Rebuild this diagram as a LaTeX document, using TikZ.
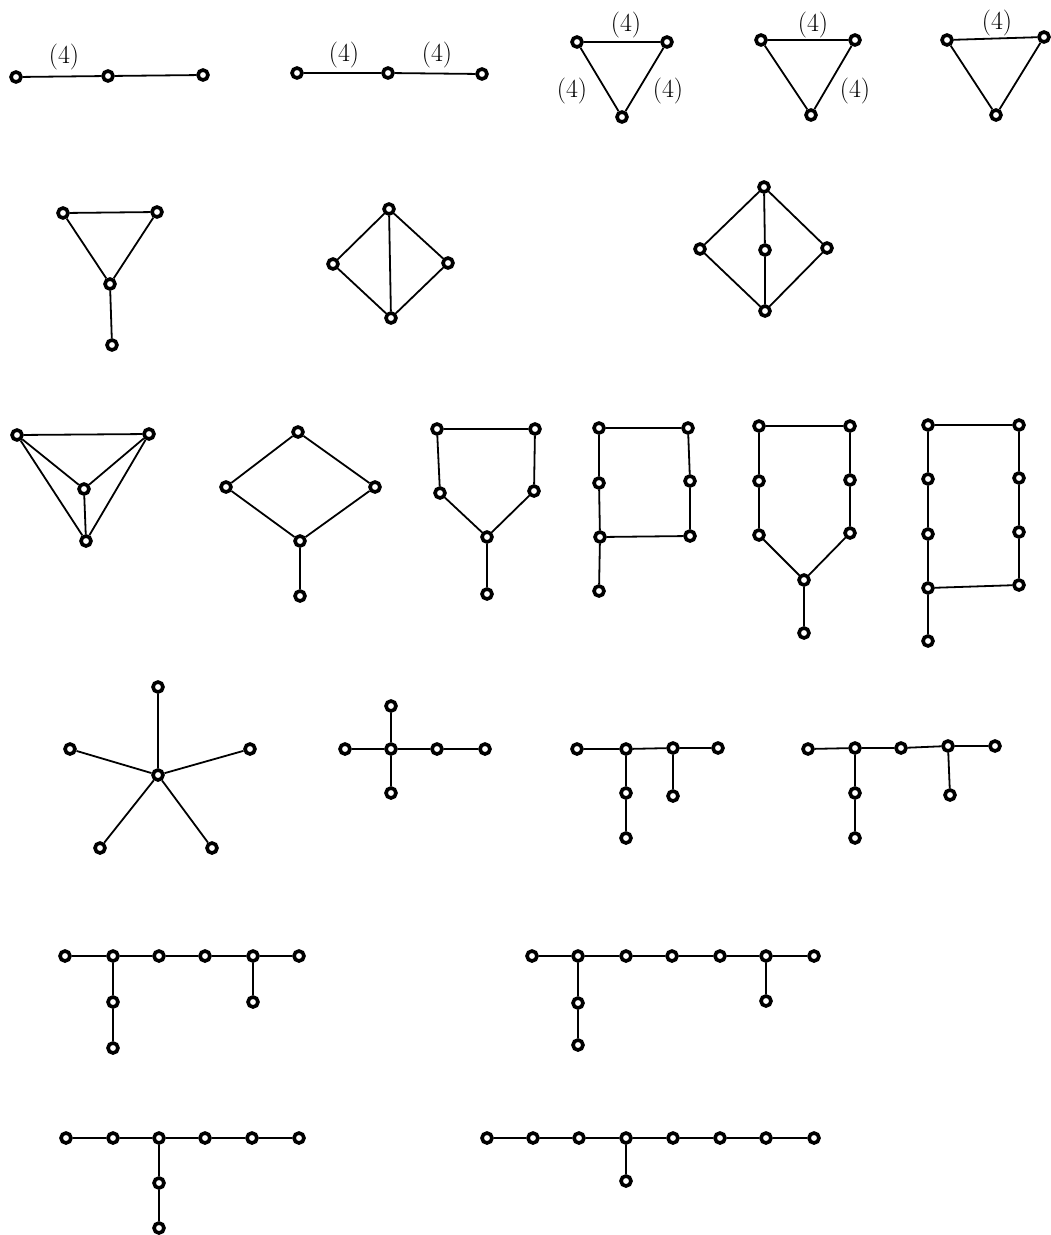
\documentclass[tikz,border=0pt]{standalone}
\usetikzlibrary{positioning}
\begin{document}
\begin{tikzpicture}[x=1pt, y=-1pt,
  vtx/.style={circle, draw, line width=3.6pt, fill=white, inner sep=0pt, minimum size=10pt},
  link/.style={line width=1.8pt},
  wlabel/.style={font=\fontsize{26}{30}\selectfont, inner sep=0pt},
]
\useasboundingbox (0,0) rectangle (1051,1235);

% Row 1: weighted paths and triangles
\node[vtx] (pa1) at (16,77) {};
\node[vtx] (pa2) at (108,76) {};
\node[vtx] (pa3) at (203,75) {};
\draw[link] (pa1) -- (pa2) -- (pa3);
\node[wlabel] (pa1l) at (64,57) {(4)};

\node[vtx] (pb1) at (297,73) {};
\node[vtx] (pb2) at (388,73) {};
\node[vtx] (pb3) at (482,74) {};
\draw[link] (pb1) -- (pb2) -- (pb3);
\node[wlabel] (pb1l) at (344,55) {(4)};
\node[wlabel] (pb2l) at (437,55) {(4)};

\node[vtx] (ta1) at (577,42) {};
\node[vtx] (ta2) at (667,42) {};
\node[vtx] (ta3) at (622,117) {};
\draw[link] (ta1) -- (ta2) -- (ta3) -- (ta1);
\node[wlabel] (ta1l) at (626,25) {(4)};
\node[wlabel] (ta2l) at (572,91) {(4)};
\node[wlabel] (ta3l) at (668,91) {(4)};

\node[vtx] (tb1) at (761,40) {};
\node[vtx] (tb2) at (855,40) {};
\node[vtx] (tb3) at (811,115) {};
\draw[link] (tb1) -- (tb2) -- (tb3) -- (tb1);
\node[wlabel] (tb1l) at (813,25) {(4)};
\node[wlabel] (tb2l) at (855,91) {(4)};

\node[vtx] (tc1) at (947,40) {};
\node[vtx] (tc2) at (1044,37) {};
\node[vtx] (tc3) at (996,115) {};
\draw[link] (tc1) -- (tc2) -- (tc3) -- (tc1);
\node[wlabel] (tc1l) at (997,23) {(4)};

% Row 2
\node[vtx] (q1) at (63,213) {};
\node[vtx] (q2) at (157,212) {};
\node[vtx] (q3) at (110,284) {};
\node[vtx] (q4) at (112,345) {};
\draw[link] (q1) -- (q2) -- (q3) -- (q1);
\draw[link] (q3) -- (q4);

\node[vtx] (d1) at (389,209) {};
\node[vtx] (d2) at (333,264) {};
\node[vtx] (d3) at (448,263) {};
\node[vtx] (d4) at (391,318) {};
\draw[link] (d1) -- (d2) -- (d4) -- (d3) -- (d1) -- (d4);

\node[vtx] (k1) at (764,187) {};
\node[vtx] (k2) at (700,249) {};
\node[vtx] (k3) at (827,248) {};
\node[vtx] (k4) at (765,250) {};
\node[vtx] (k5) at (765,311) {};
\draw[link] (k1) -- (k2) -- (k5) -- (k3) -- (k1) -- (k4) -- (k5);

% Row 3
\node[vtx] (f1) at (17,435) {};
\node[vtx] (f2) at (149,434) {};
\node[vtx] (f3) at (84,489) {};
\node[vtx] (f4) at (86,541) {};
\draw[link] (f1) -- (f2) -- (f4) -- (f1) -- (f3) -- (f2);
\draw[link] (f3) -- (f4);

\node[vtx] (r1) at (298,432) {};
\node[vtx] (r2) at (226,487) {};
\node[vtx] (r3) at (375,487) {};
\node[vtx] (r4) at (300,541) {};
\node[vtx] (r5) at (300,596) {};
\draw[link] (r1) -- (r2) -- (r4) -- (r3) -- (r1);
\draw[link] (r4) -- (r5);

\node[vtx] (h1) at (437,429) {};
\node[vtx] (h2) at (535,429) {};
\node[vtx] (h3) at (440,493) {};
\node[vtx] (h4) at (534,491) {};
\node[vtx] (h5) at (487,537) {};
\node[vtx] (h6) at (487,594) {};
\draw[link] (h1) -- (h2) -- (h4) -- (h5) -- (h3) -- (h1);
\draw[link] (h5) -- (h6);

\node[vtx] (s1) at (599,428) {};
\node[vtx] (s2) at (688,428) {};
\node[vtx] (s3) at (599,483) {};
\node[vtx] (s4) at (690,481) {};
\node[vtx] (s5) at (600,537) {};
\node[vtx] (s6) at (690,536) {};
\node[vtx] (s7) at (599,591) {};
\draw[link] (s7) -- (s5) -- (s3) -- (s1) -- (s2) -- (s4) -- (s6) -- (s5);

\node[vtx] (u1) at (759,426) {};
\node[vtx] (u2) at (850,426) {};
\node[vtx] (u3) at (759,481) {};
\node[vtx] (u4) at (850,480) {};
\node[vtx] (u5) at (759,535) {};
\node[vtx] (u6) at (850,533) {};
\node[vtx] (u7) at (804,580) {};
\node[vtx] (u8) at (804,633) {};
\draw[link] (u7) -- (u5) -- (u3) -- (u1) -- (u2) -- (u4) -- (u6) -- (u7) -- (u8);

\node[vtx] (w1) at (928,425) {};
\node[vtx] (w2) at (1019,425) {};
\node[vtx] (w3) at (928,479) {};
\node[vtx] (w4) at (1019,478) {};
\node[vtx] (w5) at (928,534) {};
\node[vtx] (w6) at (1019,532) {};
\node[vtx] (w7) at (928,588) {};
\node[vtx] (w8) at (1019,585) {};
\node[vtx] (w9) at (928,641) {};
\draw[link] (w9) -- (w7) -- (w5) -- (w3) -- (w1) -- (w2) -- (w4) -- (w6) -- (w8) -- (w7);

% Row 4: star and trees
\node[vtx] (c0) at (158,775) {};
\foreach \n/\p in {1/{158,687}, 2/{70,749}, 3/{250,749}, 4/{100,848}, 5/{212,848}} {
  \node[vtx] (c\n) at (\p) {};
  \draw[link] (c0) -- (c\n);
}

\node[vtx] (x1) at (391,706) {};
\node[vtx] (x2) at (345,749) {};
\node[vtx] (x3) at (391,749) {};
\node[vtx] (x4) at (437,749) {};
\node[vtx] (x5) at (485,749) {};
\node[vtx] (x6) at (391,793) {};
\draw[link] (x2) -- (x3) -- (x4) -- (x5);
\draw[link] (x1) -- (x3) -- (x6);

\node[vtx] (y1) at (577,749) {};
\node[vtx] (y2) at (626,749) {};
\node[vtx] (y3) at (673,748) {};
\node[vtx] (y4) at (718,748) {};
\node[vtx] (y5) at (626,793) {};
\node[vtx] (y6) at (626,838) {};
\node[vtx] (y7) at (673,796) {};
\draw[link] (y1) -- (y2) -- (y3) -- (y4);
\draw[link] (y2) -- (y5) -- (y6);
\draw[link] (y3) -- (y7);

\node[vtx] (z1) at (808,749) {};
\node[vtx] (z2) at (855,748) {};
\node[vtx] (z3) at (901,748) {};
\node[vtx] (z4) at (948,746) {};
\node[vtx] (z5) at (995,746) {};
\node[vtx] (z6) at (855,793) {};
\node[vtx] (z7) at (855,838) {};
\node[vtx] (z8) at (950,795) {};
\draw[link] (z1) -- (z2) -- (z3) -- (z4) -- (z5);
\draw[link] (z2) -- (z6) -- (z7);
\draw[link] (z4) -- (z8);

% Row 5
\foreach \n/\x in {1/65, 2/113, 3/159, 4/205, 5/253, 6/299}
  \node[vtx] (e\n) at (\x,956) {};
\node[vtx] (e7) at (113,1002) {};
\node[vtx] (e8) at (113,1048) {};
\node[vtx] (e9) at (253,1002) {};
\draw[link] (e1) -- (e2) -- (e3) -- (e4) -- (e5) -- (e6);
\draw[link] (e2) -- (e7) -- (e8);
\draw[link] (e5) -- (e9);

\foreach \n/\x in {1/532, 2/578, 3/626, 4/672, 5/720, 6/766, 7/814}
  \node[vtx] (g\n) at (\x,956) {};
\node[vtx] (g8) at (578,1003) {};
\node[vtx] (g9) at (578,1045) {};
\node[vtx] (g10) at (766,1001) {};
\draw[link] (g1) -- (g2) -- (g3) -- (g4) -- (g5) -- (g6) -- (g7);
\draw[link] (g2) -- (g8) -- (g9);
\draw[link] (g6) -- (g10);

% Row 6
\foreach \n/\x in {1/66, 2/113, 3/159, 4/205, 5/252, 6/299}
  \node[vtx] (m\n) at (\x,1138) {};
\node[vtx] (m7) at (159,1183) {};
\node[vtx] (m8) at (159,1228) {};
\draw[link] (m1) -- (m2) -- (m3) -- (m4) -- (m5) -- (m6);
\draw[link] (m3) -- (m7) -- (m8);

\foreach \n/\x in {1/487, 2/533, 3/579, 4/626, 5/673, 6/720, 7/766, 8/814}
  \node[vtx] (n\n) at (\x,1138) {};
\node[vtx] (n9) at (626,1181) {};
\draw[link] (n1) -- (n2) -- (n3) -- (n4) -- (n5) -- (n6) -- (n7) -- (n8);
\draw[link] (n4) -- (n9);

\end{tikzpicture}
\end{document}
